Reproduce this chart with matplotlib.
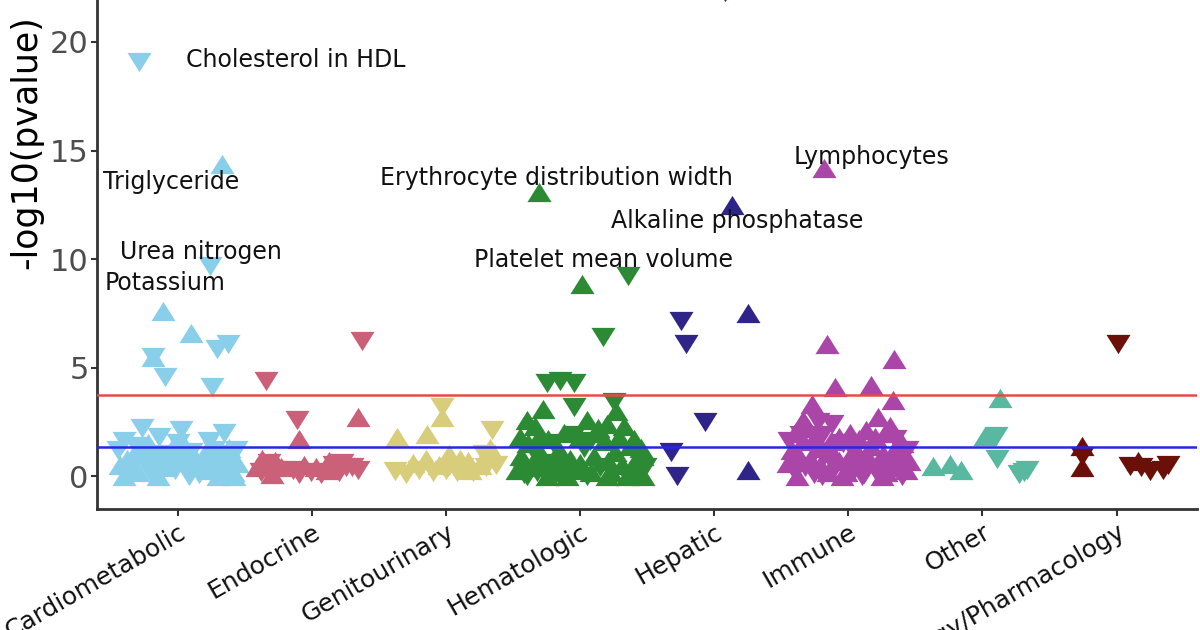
import matplotlib
matplotlib.use('Agg')
import matplotlib.pyplot as plt
from matplotlib.transforms import ScaledTranslation

# categories on the x axis
categories = ['Cardiometabolic', 'Endocrine', 'Genitourinary', 'Hematologic',
              'Hepatic', 'Immune', 'Other', 'Toxicology/Pharmacology']
colors = ['#8ACFEA', '#CA6178', '#D8CD7A', '#2C8A34',
          '#2F2488', '#A946A8', '#58B8A0', '#6A1008']

# (x position, -log10(pvalue), direction)
cardio = [(-0.29, 19.1, 'd'), (0.33, 14.4, 'u'), (0.24, 9.7, 'd'), (-0.11, 7.6, 'u'),
          (0.10, 6.6, 'u'), (0.29, 5.85, 'd'), (0.37, 6.1, 'd'), (-0.19, 5.5, 'u'),
          (-0.19, 5.5, 'd'), (-0.10, 4.55, 'd'), (0.25, 4.1, 'd'),
          (-0.43, 0.5, 'u'), (-0.40, 1.6, 'd'), (-0.36, 0.3, 'd'), (-0.33, 1.0, 'u'),
          (-0.30, 0.2, 'u'), (-0.27, 2.2, 'd'), (-0.25, 0.7, 'd'), (-0.22, 1.5, 'u'),
          (-0.20, 0.1, 'd'), (-0.17, 0.9, 'u'), (-0.14, 1.8, 'd'), (-0.12, 0.4, 'u'),
          (-0.08, 0.6, 'd'), (-0.05, 1.2, 'u'), (-0.02, 0.3, 'd'), (0.02, 2.1, 'd'),
          (0.04, 0.8, 'u'), (0.07, 0.2, 'd'), (0.10, 1.1, 'd'), (0.13, 0.5, 'u'),
          (0.16, 0.1, 'd'), (0.20, 0.9, 'u'), (0.23, 1.6, 'd'), (0.26, 0.3, 'u'),
          (0.29, 0.7, 'd'), (0.34, 2.0, 'd'), (0.35, 0.4, 'u'), (0.38, 1.3, 'u'),
          (0.41, 0.2, 'u'), (0.44, 0.6, 'u'),
          (-0.45, 1.2, 'd'), (-0.38, 0.8, 'u'), (-0.31, 1.4, 'd'), (-0.24, 1.2, 'u'),
          (-0.18, 0.5, 'd'), (-0.10, 1.0, 'd'), (-0.03, 0.9, 'u'), (0.00, 1.5, 'd'),
          (0.06, 1.3, 'u'), (0.12, 0.9, 'u'), (0.18, 0.4, 'd'), (0.22, 1.2, 'u'),
          (0.27, 1.2, 'd'), (0.31, 0.3, 'u'), (0.36, 1.0, 'd'), (0.40, 0.9, 'u'),
          (0.43, 1.2, 'd'), (-0.40, 0.0, 'u'), (-0.15, 0.0, 'u'), (0.08, 0.0, 'd'),
          (0.30, 0.0, 'u'), (0.42, 0.0, 'u')]
endocrine = [(0.66, 4.4, 'd'), (1.37, 6.2, 'd'), (1.34, 2.7, 'u'), (0.89, 2.6, 'd'),
             (0.90, 1.7, 'u'),
             (0.59, 0.4, 'u'), (0.62, 0.2, 'd'), (0.66, 0.5, 'u'), (0.70, 0.1, 'u'),
             (0.73, 0.3, 'd'), (0.77, 0.4, 'u'), (0.86, 0.3, 'd'), (0.90, 0.1, 'd'),
             (0.94, 0.5, 'u'), (0.99, 0.2, 'd'), (1.03, 0.4, 'u'), (1.07, 0.1, 'd'),
             (1.11, 0.3, 'u'), (1.16, 0.5, 'd'), (1.20, 0.2, 'd'), (1.25, 0.4, 'd'),
             (1.30, 0.4, 'd'), (1.34, 0.3, 'd'),
             (0.63, 0.8, 'u'), (0.68, 0.6, 'd'), (0.72, 0.7, 'u'), (1.13, 0.7, 'u'),
             (1.22, 0.6, 'd')]
genito = [(1.63, 1.8, 'u'), (1.62, 0.25, 'd'), (1.86, 1.95, 'u'), (1.97, 3.2, 'd'),
          (1.97, 2.7, 'u'), (2.34, 2.1, 'd'), (2.33, 1.3, 'u'), (2.37, 0.5, 'd'),
          (1.75, 0.6, 'u'), (1.80, 0.3, 'd'), (1.85, 0.8, 'u'), (1.90, 0.2, 'd'),
          (1.95, 0.5, 'u'), (2.00, 0.3, 'd'), (2.04, 0.6, 'u'), (2.08, 0.2, 'd'),
          (2.12, 0.4, 'd'), (2.16, 0.7, 'u'), (2.20, 0.2, 'd'), (2.25, 0.5, 'u'),
          (2.28, 1.0, 'd'),
          (1.70, 0.1, 'd'), (2.02, 1.0, 'u'), (2.10, 0.8, 'u'), (2.18, 0.3, 'u'),
          (2.30, 0.4, 'd')]
hemato = [(2.69, 13.1, 'u'), (3.01, 8.85, 'u'), (3.36, 9.2, 'd'), (3.17, 6.4, 'd'),
          (2.75, 4.3, 'd'), (2.85, 4.4, 'd'), (2.95, 4.3, 'd'), (2.95, 3.2, 'd'),
          (3.25, 3.4, 'd'), (3.27, 3.0, 'u'), (2.72, 3.1, 'u'),
          (2.53, 0.3, 'u'), (2.56, 0.9, 'u'), (2.58, 0.1, 'd'), (2.61, 1.5, 'u'),
          (2.63, 0.5, 'u'), (2.66, 2.3, 'u'), (2.68, 0.2, 'd'), (2.71, 1.0, 'u'),
          (2.73, 0.4, 'u'), (2.76, 1.7, 'u'), (2.78, 0.6, 'd'), (2.81, 0.2, 'u'),
          (2.84, 1.2, 'u'), (2.86, 0.5, 'u'), (2.89, 0.1, 'd'), (2.92, 0.8, 'u'),
          (2.95, 1.9, 'd'), (2.97, 0.3, 'u'), (3.00, 0.6, 'u'), (3.03, 1.3, 'd'),
          (3.05, 2.6, 'u'), (3.08, 0.2, 'u'), (3.10, 0.9, 'u'), (3.13, 2.2, 'u'),
          (3.15, 0.4, 'd'), (3.18, 1.6, 'u'), (3.21, 0.7, 'u'), (3.23, 0.2, 'u'),
          (3.26, 1.1, 'u'), (3.29, 1.8, 'u'), (3.31, 0.5, 'u'), (3.34, 0.1, 'd'),
          (3.37, 1.4, 'u'), (3.40, 0.6, 'u'), (3.43, 0.3, 'u'), (3.46, 0.9, 'u'),
          (3.48, 0.4, 'd'),
          (2.55, 1.8, 'u'), (2.60, 2.6, 'u'), (2.65, 1.2, 'd'), (2.70, 1.9, 'u'),
          (2.80, 1.5, 'd'), (2.88, 2.0, 'u'), (3.00, 1.8, 'u'), (3.07, 1.6, 'd'),
          (3.15, 2.0, 'u'), (3.20, 2.4, 'u'), (3.33, 2.3, 'u'), (3.40, 1.7, 'u'),
          (3.45, 1.3, 'u'), (2.60, 0.0, 'd'), (2.75, 0.0, 'u'), (2.90, 0.0, 'u'),
          (3.05, 0.0, 'd'), (3.20, 0.0, 'u'), (3.35, 0.0, 'u'), (3.47, 0.0, 'u')]
hepatic = [(4.08, 22.3, 'd'), (4.13, 12.5, 'u'), (3.75, 7.15, 'd'), (3.79, 6.1, 'd'),
           (4.25, 7.5, 'u'), (3.93, 2.5, 'd'), (3.68, 1.1, 'd'), (3.72, 0.0, 'd'),
           (4.25, 0.3, 'u')]
immune = [(4.82, 14.2, 'u'), (4.84, 6.1, 'u'), (5.34, 5.4, 'u'), (4.90, 4.1, 'u'),
          (5.17, 4.2, 'u'), (5.33, 3.5, 'u'), (4.73, 3.3, 'u'), (4.88, 2.4, 'd'),
          (5.01, 2.0, 'u'), (5.22, 2.7, 'u'), (5.31, 2.3, 'u'), (4.66, 2.6, 'u'),
          (4.77, 2.5, 'd'),
          (4.55, 0.6, 'u'), (4.58, 1.2, 'u'), (4.60, 0.2, 'd'), (4.63, 0.9, 'u'),
          (4.66, 1.6, 'u'), (4.68, 0.4, 'd'), (4.71, 0.8, 'u'), (4.74, 0.1, 'd'),
          (4.77, 1.3, 'u'), (4.79, 0.5, 'u'), (4.82, 0.9, 'd'), (4.85, 0.2, 'u'),
          (4.88, 1.1, 'u'), (4.90, 0.4, 'd'), (4.93, 0.7, 'u'), (4.96, 1.5, 'd'),
          (4.98, 0.2, 'u'), (5.01, 0.9, 'u'), (5.04, 0.3, 'd'), (5.06, 1.2, 'u'),
          (5.09, 0.6, 'u'), (5.12, 0.1, 'd'), (5.15, 0.8, 'u'), (5.17, 1.4, 'u'),
          (5.20, 0.3, 'd'), (5.23, 0.7, 'u'), (5.26, 1.0, 'u'), (5.28, 0.2, 'u'),
          (5.31, 0.6, 'd'), (5.34, 1.2, 'u'), (5.37, 0.4, 'u'), (5.40, 0.8, 'u'),
          (5.43, 0.3, 'u'), (5.45, 0.7, 'u'),
          (4.60, 2.0, 'u'), (4.65, 1.9, 'd'), (4.70, 2.2, 'u'), (4.75, 1.8, 'u'),
          (4.80, 1.9, 'd'), (4.87, 1.6, 'u'), (4.93, 1.8, 'u'), (5.00, 1.5, 'd'),
          (5.08, 1.7, 'u'), (5.13, 2.1, 'u'), (5.20, 1.8, 'u'), (5.27, 2.0, 'u'),
          (5.35, 1.7, 'd'), (5.40, 1.5, 'u'), (5.44, 1.2, 'd'), (4.56, 1.6, 'd'),
          (4.62, 0.0, 'u'), (4.80, 0.0, 'd'), (4.95, 0.0, 'u'), (5.10, 0.0, 'd'),
          (5.25, 0.0, 'u'), (5.40, 0.0, 'd')]
other = [(6.13, 3.6, 'u'), (6.02, 1.85, 'u'), (6.10, 1.85, 'd'), (6.11, 0.8, 'd'),
         (5.63, 0.45, 'u'), (5.76, 0.55, 'u'), (5.84, 0.3, 'u'), (6.31, 0.2, 'd'),
         (6.33, 0.3, 'd'), (6.27, 0.1, 'd')]
toxico = [(7.01, 6.1, 'd'), (6.74, 1.4, 'u'), (6.74, 0.9, 'd'), (6.74, 0.4, 'u'),
          (7.10, 0.45, 'd'), (7.18, 0.4, 'd'), (7.25, 0.25, 'd'), (7.35, 0.3, 'd'),
          (7.38, 0.5, 'd'), (7.16, 0.7, 'u')]
groups = [cardio, endocrine, genito, hemato, hepatic, immune, other, toxico]

# annotated phenotypes: (text, x, y)
labels = [('Cholesterol in HDL', 0.06, 19.17), ('Triglyceride', -0.56, 13.55),
          ('Urea nitrogen', -0.43, 10.32), ('Potassium', -0.55, 8.89),
          ('Erythrocyte distribution width', 1.51, 13.73),
          ('Alkaline phosphatase', 3.23, 11.75), ('Platelet mean volume', 2.21, 9.95),
          ('Lymphocytes', 4.59, 14.7)]

bonferroni = 3.73
nominal = 1.34

tri_up = [(0, 0.8), (-1, -0.8), (1, -0.8), (0, 0.8)]
tri_down = [(0, -0.8), (-1, 0.8), (1, 0.8), (0, -0.8)]

fig = plt.figure(figsize=(12, 6.3), dpi=100)
ax = fig.add_axes([97 / 1200, 121 / 630, 1100 / 1200, 0.9135])

for pts, col in zip(groups, colors):
    for d, mk in (('u', tri_up), ('d', tri_down)):
        xs = [p[0] for p in pts if p[2] == d]
        ys = [p[1] for p in pts if p[2] == d]
        ax.scatter(xs, ys, marker=mk, s=300, color=col, linewidths=0, zorder=3)

ax.axhline(bonferroni, color='#E8494B', lw=1.8, zorder=4)
ax.axhline(nominal, color='#2626E6', lw=1.8, zorder=4)

for txt, x, y in labels:
    ax.text(x, y, txt, fontsize=17, ha='left', va='center', color='#111111', zorder=5)

ax.set_xlim(-0.604, 7.6)
ax.set_ylim(-1.52, 25)
ax.set_yticks([0, 5, 10, 15, 20])
ax.set_xticks(range(len(categories)))
ax.set_xticklabels(categories, rotation=30, ha='right', rotation_mode='anchor',
                   fontsize=18, color='#111111')
for lbl in ax.get_xticklabels():
    lbl.set_transform(lbl.get_transform() + ScaledTranslation(8 / 100, -4 / 100, fig.dpi_scale_trans))
ax.tick_params(axis='y', labelsize=22, labelcolor='#4D4D4D', length=4, width=1.5, color='#333333', pad=2)
ax.tick_params(axis='x', length=5, width=1.5, color='#333333', pad=3)

for side in ('top', 'right'):
    ax.spines[side].set_visible(False)
for side in ('left', 'bottom'):
    ax.spines[side].set_linewidth(2)
    ax.spines[side].set_color('#333333')

fig.text(26 / 1200, 1 - 142 / 630, '-log10(pvalue)', rotation=90, fontsize=25,
         ha='center', va='center')

fig.savefig('out.png', dpi=100)
